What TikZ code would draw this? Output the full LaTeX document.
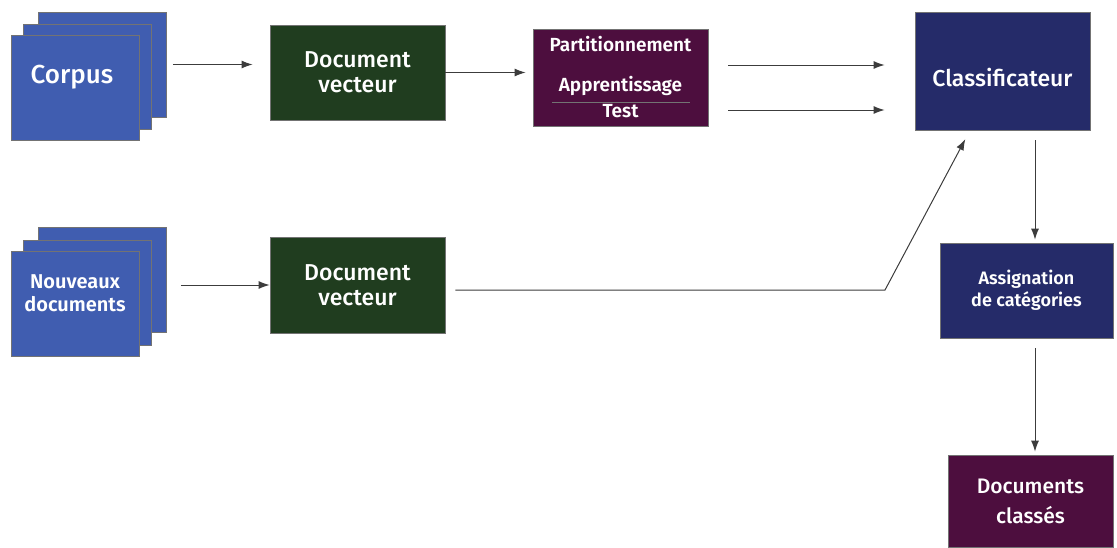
\documentclass[tikz,border=0pt]{standalone}
\usepackage{fontspec}
\setmainfont{Fira Sans}[UprightFont={* Medium}, BoldFont={* SemiBold}]
\usetikzlibrary{arrows.meta}
\definecolor{corpusblue}{RGB}{64,93,176}
\definecolor{vecgreen}{RGB}{32,61,31}
\definecolor{partpurple}{RGB}{77,14,62}
\definecolor{classnavy}{RGB}{37,43,105}
\definecolor{boxgray}{RGB}{115,115,115}
\definecolor{arrowgray}{RGB}{60,60,60}

\begin{document}
\begin{tikzpicture}[x=1pt, y=-1pt,
  every node/.style={inner sep=0pt, align=center, text=white},
  box/.style={draw=boxgray, line width=0.8pt, minimum width=175, minimum height=95},
  sheet/.style={box, fill=corpusblue, minimum width=128, minimum height=105},
  vecbox/.style={box, fill=vecgreen, font=\fontsize{23}{25}\selectfont},
  partbox/.style={box, fill=partpurple, minimum height=97},
  classbox/.style={box, fill=classnavy},
  txt/.style={font=\fontsize{19}{23}\selectfont\bfseries},
  flow/.style={draw=arrowgray, line width=1pt, -{Latex[length=11pt, width=8pt]}}]
\useasboundingbox (0,0) rectangle (1117,547);
% corpus
\node[sheet] (C3) at (102.5,64.5) {};
\node[sheet] (C2) at (87.5,76.5) {};
\node[sheet] (C1) at (75,87.5) {};
\node[font=\fontsize{26}{28}\selectfont] (corpus) at (72,77) {Corpus};
% nouveaux documents
\node[sheet] (N3) at (102.5,280) {};
\node[sheet] (N2) at (87.5,293) {};
\node[sheet] (N1) at (75,303.5) {};
\node[txt, font=\fontsize{20}{23}\selectfont\bfseries] (nouveaux) at (75,293) {Nouveaux\\documents};
% boxes
\node[vecbox] (DV1) at (357.5,72.5) {Document\\vecteur};
\node[vecbox, minimum height=96] (DV2) at (357.5,285) {Document\\vecteur};
\node[partbox] (part) at (620.5,77.5) {};
\node[txt] (partT) at (620.5,44) {Partitionnement};
\node[txt] (apprT) at (620.5,86) {Apprentissage};
\node[txt] (testT) at (620.5,111) {Test};
\draw[boxgray, line width=0.6pt] (552,102) -- (690,102);
\node[classbox, minimum height=118, text height=30pt, text depth=0pt, font=\fontsize{23}{24}\selectfont] (classif) at (1002.5,71) {Classificateur};
\node[classbox, minimum width=173, font=\fontsize{18}{22}\selectfont\bfseries] (assign) at (1026.5,290.5) {Assignation\\de catégories};
\node[box, fill=partpurple, minimum width=165, minimum height=92, font=\fontsize{21}{30}\selectfont] (docs) at (1030.5,501) {Documents\\classés};
\coordinate (bend) at (885,290);
% connectors
\draw[flow, shorten <=6pt, shorten >=17pt] (C3.east) -- (C3.east -| DV1.west);
\draw[flow, shorten >=7pt] (DV1.east) -- (DV1.east -| part.west);
\draw[flow, shorten <=20pt, shorten >=30pt] ([yshift=12.5]part.east) -- ([yshift=12.5]part.east -| classif.west);
\draw[flow, shorten <=20pt, shorten >=30pt] ([yshift=-32.5]part.east) -- ([yshift=-32.5]part.east -| classif.west);
\draw[flow, shorten <=14pt] (N3.east |- DV2) -- (DV2.west);
\draw[flow, shorten <=10pt, shorten >=10pt] ([yshift=-5]DV2.east) -- (bend) -- ([xshift=-32.5]classif.south);
\draw[flow, shorten <=10pt, shorten >=3pt] ([xshift=32.5]classif.south) -- ([xshift=32.5]classif.south |- assign.north);
\draw[flow, shorten <=10pt, shorten >=3pt] ([xshift=8.5]assign.south) -- ([xshift=8.5]assign.south |- docs.north);
\end{tikzpicture}
\end{document}
